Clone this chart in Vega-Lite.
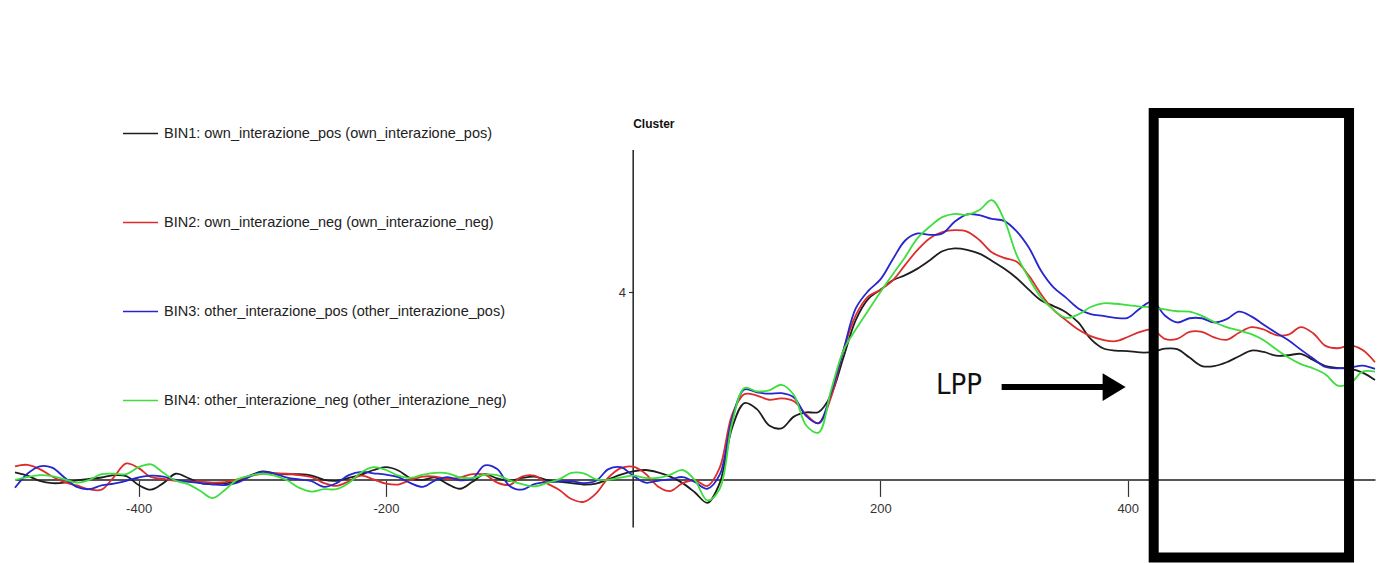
{
  "$schema": "https://vega.github.io/schema/vega-lite/v6.json",
  "width": 1360,
  "height": 459,
  "autosize": {"type": "none"},
  "padding": {"left": 15, "top": 100, "right": 7, "bottom": 4},
  "background": "white",
  "config": {"view": {"stroke": null}, "font": "Liberation Sans"},
  "datasets": {
    "erp": [
      {"t": -500, "BIN1": 0.15, "BIN2": 0.28, "BIN3": -0.18, "BIN4": -0.01},
      {"t": -490, "BIN1": 0.08, "BIN2": 0.31, "BIN3": 0.12, "BIN4": 0.05},
      {"t": -480, "BIN1": -0.03, "BIN2": 0.22, "BIN3": 0.28, "BIN4": 0.09},
      {"t": -470, "BIN1": -0.08, "BIN2": 0.06, "BIN3": 0.25, "BIN4": 0.07},
      {"t": -460, "BIN1": -0.07, "BIN2": -0.06, "BIN3": 0.04, "BIN4": 0.0},
      {"t": -450, "BIN1": -0.02, "BIN2": -0.13, "BIN3": -0.16, "BIN4": -0.07},
      {"t": -440, "BIN1": 0.01, "BIN2": -0.21, "BIN3": -0.21, "BIN4": -0.01},
      {"t": -430, "BIN1": 0.04, "BIN2": -0.22, "BIN3": -0.13, "BIN4": 0.11},
      {"t": -420, "BIN1": 0.09, "BIN2": 0.05, "BIN3": -0.09, "BIN4": 0.12},
      {"t": -410, "BIN1": 0.07, "BIN2": 0.34, "BIN3": -0.03, "BIN4": 0.11},
      {"t": -400, "BIN1": -0.12, "BIN2": 0.24, "BIN3": 0.04, "BIN4": 0.26},
      {"t": -390, "BIN1": -0.22, "BIN2": 0.05, "BIN3": 0.08, "BIN4": 0.32},
      {"t": -380, "BIN1": -0.08, "BIN2": 0.01, "BIN3": 0.06, "BIN4": 0.14},
      {"t": -370, "BIN1": 0.12, "BIN2": -0.03, "BIN3": -0.01, "BIN4": -0.03},
      {"t": -360, "BIN1": 0.03, "BIN2": -0.05, "BIN3": -0.05, "BIN4": -0.1},
      {"t": -350, "BIN1": -0.08, "BIN2": -0.05, "BIN3": -0.08, "BIN4": -0.25},
      {"t": -340, "BIN1": -0.1, "BIN2": -0.07, "BIN3": -0.11, "BIN4": -0.4},
      {"t": -330, "BIN1": -0.08, "BIN2": -0.06, "BIN3": -0.12, "BIN4": -0.22},
      {"t": -320, "BIN1": -0.05, "BIN2": 0.0, "BIN3": -0.07, "BIN4": 0.0},
      {"t": -310, "BIN1": 0.08, "BIN2": 0.07, "BIN3": 0.06, "BIN4": 0.08},
      {"t": -300, "BIN1": 0.17, "BIN2": 0.12, "BIN3": 0.16, "BIN4": 0.12},
      {"t": -290, "BIN1": 0.13, "BIN2": 0.13, "BIN3": 0.12, "BIN4": 0.08},
      {"t": -280, "BIN1": 0.11, "BIN2": 0.12, "BIN3": 0.04, "BIN4": -0.02},
      {"t": -270, "BIN1": 0.11, "BIN2": 0.09, "BIN3": 0.0, "BIN4": -0.18},
      {"t": -260, "BIN1": 0.08, "BIN2": 0.05, "BIN3": -0.04, "BIN4": -0.26},
      {"t": -250, "BIN1": -0.01, "BIN2": -0.08, "BIN3": -0.16, "BIN4": -0.21},
      {"t": -240, "BIN1": -0.03, "BIN2": -0.14, "BIN3": -0.08, "BIN4": -0.21},
      {"t": -230, "BIN1": 0.03, "BIN2": -0.04, "BIN3": 0.09, "BIN4": -0.08},
      {"t": -220, "BIN1": 0.1, "BIN2": 0.08, "BIN3": 0.16, "BIN4": 0.15},
      {"t": -210, "BIN1": 0.2, "BIN2": 0.0, "BIN3": 0.13, "BIN4": 0.26},
      {"t": -200, "BIN1": 0.26, "BIN2": -0.09, "BIN3": 0.1, "BIN4": 0.2},
      {"t": -190, "BIN1": 0.19, "BIN2": -0.11, "BIN3": 0.05, "BIN4": 0.08},
      {"t": -180, "BIN1": 0.02, "BIN2": -0.01, "BIN3": -0.08, "BIN4": 0.03},
      {"t": -170, "BIN1": -0.01, "BIN2": 0.06, "BIN3": -0.16, "BIN4": 0.1},
      {"t": -160, "BIN1": 0.04, "BIN2": 0.06, "BIN3": -0.02, "BIN4": 0.14},
      {"t": -150, "BIN1": -0.1, "BIN2": 0.01, "BIN3": 0.05, "BIN4": 0.13},
      {"t": -140, "BIN1": -0.2, "BIN2": 0.04, "BIN3": -0.02, "BIN4": 0.04},
      {"t": -130, "BIN1": -0.05, "BIN2": 0.11, "BIN3": 0.02, "BIN4": 0.03},
      {"t": -120, "BIN1": 0.11, "BIN2": 0.1, "BIN3": 0.3, "BIN4": 0.1},
      {"t": -110, "BIN1": 0.02, "BIN2": -0.07, "BIN3": 0.22, "BIN4": 0.09},
      {"t": -100, "BIN1": -0.03, "BIN2": -0.12, "BIN3": -0.14, "BIN4": -0.02},
      {"t": -90, "BIN1": 0.03, "BIN2": 0.06, "BIN3": -0.22, "BIN4": -0.1},
      {"t": -80, "BIN1": 0.06, "BIN2": 0.08, "BIN3": -0.1, "BIN4": -0.15},
      {"t": -70, "BIN1": -0.01, "BIN2": -0.08, "BIN3": -0.06, "BIN4": -0.08},
      {"t": -60, "BIN1": -0.05, "BIN2": -0.22, "BIN3": -0.05, "BIN4": 0.0},
      {"t": -50, "BIN1": -0.08, "BIN2": -0.42, "BIN3": -0.04, "BIN4": 0.14},
      {"t": -40, "BIN1": -0.11, "BIN2": -0.48, "BIN3": -0.08, "BIN4": 0.13},
      {"t": -30, "BIN1": -0.09, "BIN2": -0.3, "BIN3": -0.03, "BIN4": 0.0},
      {"t": -20, "BIN1": 0.0, "BIN2": 0.04, "BIN3": 0.22, "BIN4": -0.01},
      {"t": -10, "BIN1": 0.1, "BIN2": 0.24, "BIN3": 0.26, "BIN4": 0.04},
      {"t": 0, "BIN1": 0.17, "BIN2": 0.27, "BIN3": 0.08, "BIN4": 0.08},
      {"t": 10, "BIN1": 0.2, "BIN2": 0.12, "BIN3": -0.07, "BIN4": 0.03},
      {"t": 20, "BIN1": 0.15, "BIN2": -0.15, "BIN3": -0.03, "BIN4": 0.03},
      {"t": 30, "BIN1": 0.06, "BIN2": -0.25, "BIN3": 0.0, "BIN4": 0.1},
      {"t": 40, "BIN1": -0.08, "BIN2": -0.08, "BIN3": 0.05, "BIN4": 0.2},
      {"t": 50, "BIN1": -0.28, "BIN2": -0.02, "BIN3": -0.06, "BIN4": -0.02},
      {"t": 60, "BIN1": -0.5, "BIN2": -0.14, "BIN3": -0.2, "BIN4": -0.45},
      {"t": 70, "BIN1": -0.08, "BIN2": 0.25, "BIN3": 0.1, "BIN4": -0.2},
      {"t": 80, "BIN1": 1.1, "BIN2": 1.38, "BIN3": 1.3, "BIN4": 1.2},
      {"t": 90, "BIN1": 1.63, "BIN2": 1.82, "BIN3": 1.92, "BIN4": 1.95},
      {"t": 100, "BIN1": 1.5, "BIN2": 1.79, "BIN3": 1.86, "BIN4": 1.88},
      {"t": 110, "BIN1": 1.15, "BIN2": 1.7, "BIN3": 1.83, "BIN4": 1.9},
      {"t": 120, "BIN1": 1.09, "BIN2": 1.73, "BIN3": 1.84, "BIN4": 2.02},
      {"t": 130, "BIN1": 1.34, "BIN2": 1.67, "BIN3": 1.75, "BIN4": 1.8},
      {"t": 140, "BIN1": 1.43, "BIN2": 1.38, "BIN3": 1.35, "BIN4": 1.15},
      {"t": 150, "BIN1": 1.44, "BIN2": 1.2, "BIN3": 1.2, "BIN4": 1.0},
      {"t": 160, "BIN1": 1.8, "BIN2": 1.75, "BIN3": 1.85, "BIN4": 1.9},
      {"t": 170, "BIN1": 2.6, "BIN2": 2.75, "BIN3": 2.75, "BIN4": 2.75},
      {"t": 180, "BIN1": 3.4, "BIN2": 3.5, "BIN3": 3.65, "BIN4": 3.2},
      {"t": 190, "BIN1": 3.85, "BIN2": 3.9, "BIN3": 4.02, "BIN4": 3.6},
      {"t": 200, "BIN1": 4.05, "BIN2": 4.05, "BIN3": 4.27, "BIN4": 4.0},
      {"t": 210, "BIN1": 4.25, "BIN2": 4.25, "BIN3": 4.7, "BIN4": 4.38},
      {"t": 220, "BIN1": 4.36, "BIN2": 4.58, "BIN3": 5.1, "BIN4": 4.75},
      {"t": 230, "BIN1": 4.5, "BIN2": 4.9, "BIN3": 5.25, "BIN4": 5.15},
      {"t": 240, "BIN1": 4.68, "BIN2": 5.15, "BIN3": 5.22, "BIN4": 5.4},
      {"t": 250, "BIN1": 4.87, "BIN2": 5.28, "BIN3": 5.25, "BIN4": 5.6},
      {"t": 260, "BIN1": 4.93, "BIN2": 5.32, "BIN3": 5.5, "BIN4": 5.67},
      {"t": 270, "BIN1": 4.9, "BIN2": 5.29, "BIN3": 5.66, "BIN4": 5.65},
      {"t": 280, "BIN1": 4.82, "BIN2": 5.11, "BIN3": 5.64, "BIN4": 5.75},
      {"t": 290, "BIN1": 4.67, "BIN2": 4.85, "BIN3": 5.56, "BIN4": 5.96},
      {"t": 300, "BIN1": 4.5, "BIN2": 4.73, "BIN3": 5.52, "BIN4": 5.55},
      {"t": 310, "BIN1": 4.3, "BIN2": 4.65, "BIN3": 5.3, "BIN4": 4.8},
      {"t": 320, "BIN1": 4.05, "BIN2": 4.35, "BIN3": 4.95, "BIN4": 4.3},
      {"t": 330, "BIN1": 3.82, "BIN2": 3.95, "BIN3": 4.45, "BIN4": 3.88},
      {"t": 340, "BIN1": 3.7, "BIN2": 3.62, "BIN3": 4.1, "BIN4": 3.62},
      {"t": 350, "BIN1": 3.57, "BIN2": 3.4, "BIN3": 3.88, "BIN4": 3.45},
      {"t": 360, "BIN1": 3.35, "BIN2": 3.2, "BIN3": 3.65, "BIN4": 3.52},
      {"t": 370, "BIN1": 3.0, "BIN2": 3.06, "BIN3": 3.53, "BIN4": 3.68},
      {"t": 380, "BIN1": 2.8, "BIN2": 2.98, "BIN3": 3.49, "BIN4": 3.76},
      {"t": 390, "BIN1": 2.75, "BIN2": 2.95, "BIN3": 3.45, "BIN4": 3.75},
      {"t": 400, "BIN1": 2.74, "BIN2": 3.04, "BIN3": 3.45, "BIN4": 3.72},
      {"t": 410, "BIN1": 2.71, "BIN2": 3.15, "BIN3": 3.65, "BIN4": 3.69},
      {"t": 420, "BIN1": 2.72, "BIN2": 3.2, "BIN3": 3.8, "BIN4": 3.67},
      {"t": 430, "BIN1": 2.79, "BIN2": 3.0, "BIN3": 3.5, "BIN4": 3.63},
      {"t": 440, "BIN1": 2.78, "BIN2": 3.0, "BIN3": 3.35, "BIN4": 3.59},
      {"t": 450, "BIN1": 2.6, "BIN2": 3.15, "BIN3": 3.44, "BIN4": 3.58},
      {"t": 460, "BIN1": 2.42, "BIN2": 3.15, "BIN3": 3.44, "BIN4": 3.49},
      {"t": 470, "BIN1": 2.42, "BIN2": 3.03, "BIN3": 3.35, "BIN4": 3.36},
      {"t": 480, "BIN1": 2.5, "BIN2": 2.98, "BIN3": 3.42, "BIN4": 3.25},
      {"t": 490, "BIN1": 2.63, "BIN2": 3.13, "BIN3": 3.58, "BIN4": 3.18},
      {"t": 500, "BIN1": 2.75, "BIN2": 3.25, "BIN3": 3.48, "BIN4": 3.1},
      {"t": 510, "BIN1": 2.72, "BIN2": 3.2, "BIN3": 3.3, "BIN4": 2.97},
      {"t": 520, "BIN1": 2.64, "BIN2": 3.08, "BIN3": 3.13, "BIN4": 2.78},
      {"t": 530, "BIN1": 2.65, "BIN2": 3.09, "BIN3": 2.97, "BIN4": 2.6},
      {"t": 540, "BIN1": 2.68, "BIN2": 3.25, "BIN3": 2.77, "BIN4": 2.46},
      {"t": 550, "BIN1": 2.55, "BIN2": 3.12, "BIN3": 2.58, "BIN4": 2.37},
      {"t": 560, "BIN1": 2.42, "BIN2": 2.85, "BIN3": 2.4, "BIN4": 2.24},
      {"t": 570, "BIN1": 2.38, "BIN2": 2.8, "BIN3": 2.37, "BIN4": 2.0},
      {"t": 580, "BIN1": 2.36, "BIN2": 2.86, "BIN3": 2.39, "BIN4": 2.05},
      {"t": 590, "BIN1": 2.28, "BIN2": 2.76, "BIN3": 2.43, "BIN4": 2.3},
      {"t": 600, "BIN1": 2.12, "BIN2": 2.5, "BIN3": 2.36, "BIN4": 2.3}
    ],
    "yAxisLine": [{"t": 0, "lo": -1.03, "hi": 7.03}],
    "lppWindow": [{"start": 421, "end": 579, "top": 7.82, "bottom": -1.67}],
    "arrowShaft": [{"from": 298, "to": 383, "uv": 1.97}],
    "arrowHead": [{"t": 389, "uv": 1.97}],
    "labels": [
      {"t": 245, "uv": 2.02, "text": "LPP"}
    ],
    "panelTitle": [{"t": 0, "uv": 7.59, "text": "Cluster"}]
  },
  "layer": [
    {
      "data": {"name": "yAxisLine"},
      "mark": {"type": "rule", "color": "#222", "strokeWidth": 1.5},
      "encoding": {
        "x": {"field": "t", "type": "quantitative", "title": null},
        "y": {"field": "lo", "type": "quantitative", "title": null},
        "y2": {"field": "hi"}
      }
    },
    {
      "data": {"name": "erp"},
      "transform": [{"fold": ["BIN1", "BIN2", "BIN3", "BIN4"], "as": ["bin", "uv"]}],
      "mark": {"type": "line", "strokeWidth": 1.8, "interpolate": "catmull-rom"},
      "encoding": {
        "x": {
          "field": "t", "type": "quantitative", "title": null,
          "scale": {"domain": [-500, 600], "nice": false, "zero": false},
          "axis": {
            "orient": "bottom", "offset": -79.6, "grid": false,
            "values": [-400, -200, 200, 400],
            "labelExpr": "'' + datum.value",
            "domainColor": "#555", "domainWidth": 2,
            "tickColor": "#333", "tickSize": 17, "tickWidth": 1.2,
            "labelFontSize": 13, "labelColor": "#333", "labelPadding": 6, "labelFlush": false
          }
        },
        "y": {
          "field": "uv", "type": "quantitative", "title": null,
          "scale": {"domain": [-1.7, 8.1], "nice": false, "zero": false},
          "axis": {
            "orient": "left", "offset": -618.5, "grid": false,
            "values": [4], "domain": false,
            "tickColor": "#333", "tickSize": 5, "tickWidth": 1.2,
            "labelFontSize": 13, "labelColor": "#333", "labelPadding": 3
          }
        },
        "color": {
          "field": "bin", "type": "nominal",
          "scale": {"domain": ["BIN1", "BIN2", "BIN3", "BIN4"], "range": ["#1e1e1e", "#dd2c2c", "#2626cc", "#3ede3e"]},
          "legend": {
            "orient": "none", "legendX": 107, "legendY": 15, "direction": "vertical",
            "title": null, "padding": 0,
            "symbolType": "stroke", "symbolSize": 1225, "symbolStrokeWidth": 1.5,
            "labelFontSize": 14.5, "labelColor": "#222", "labelOffset": 5, "labelLimit": 0,
            "rowPadding": 64,
            "labelExpr": "datum.label == 'BIN1' ? 'BIN1: own_interazione_pos (own_interazione_pos)' : datum.label == 'BIN2' ? 'BIN2: own_interazione_neg (own_interazione_neg)' : datum.label == 'BIN3' ? 'BIN3: other_interazione_pos (other_interazione_pos)' : 'BIN4: other_interazione_neg (other_interazione_neg)'"
          }
        }
      }
    },
    {
      "data": {"name": "lppWindow"},
      "mark": {"type": "rect", "filled": false, "color": "#000", "strokeWidth": 10, "strokeJoin": "miter"},
      "encoding": {
        "x": {"field": "start", "type": "quantitative", "title": null},
        "x2": {"field": "end"},
        "y": {"field": "top", "type": "quantitative", "title": null},
        "y2": {"field": "bottom"}
      }
    },
    {
      "data": {"name": "arrowShaft"},
      "mark": {"type": "rule", "color": "#000", "strokeWidth": 6},
      "encoding": {
        "x": {"field": "from", "type": "quantitative", "title": null},
        "x2": {"field": "to"},
        "y": {"field": "uv", "type": "quantitative", "title": null}
      }
    },
    {
      "data": {"name": "arrowHead"},
      "mark": {"type": "point", "shape": "M-1,-1.2L1,0L-1,1.2Z", "filled": true, "color": "#000", "opacity": 1, "size": 529, "strokeWidth": 0},
      "encoding": {
        "x": {"field": "t", "type": "quantitative", "title": null},
        "y": {"field": "uv", "type": "quantitative", "title": null}
      }
    },
    {
      "data": {"name": "labels"},
      "mark": {"type": "text", "align": "left", "baseline": "middle", "font": "DejaVu Sans Condensed, Liberation Sans, sans-serif", "fontSize": 29, "color": "#111"},
      "encoding": {
        "x": {"field": "t", "type": "quantitative", "title": null},
        "y": {"field": "uv", "type": "quantitative", "title": null},
        "text": {"field": "text"}
      }
    },
    {
      "data": {"name": "panelTitle"},
      "mark": {"type": "text", "align": "left", "baseline": "middle", "fontSize": 12, "fontWeight": "bold", "color": "#111"},
      "encoding": {
        "x": {"field": "t", "type": "quantitative", "title": null},
        "y": {"field": "uv", "type": "quantitative", "title": null},
        "text": {"field": "text"}
      }
    }
  ]
}
